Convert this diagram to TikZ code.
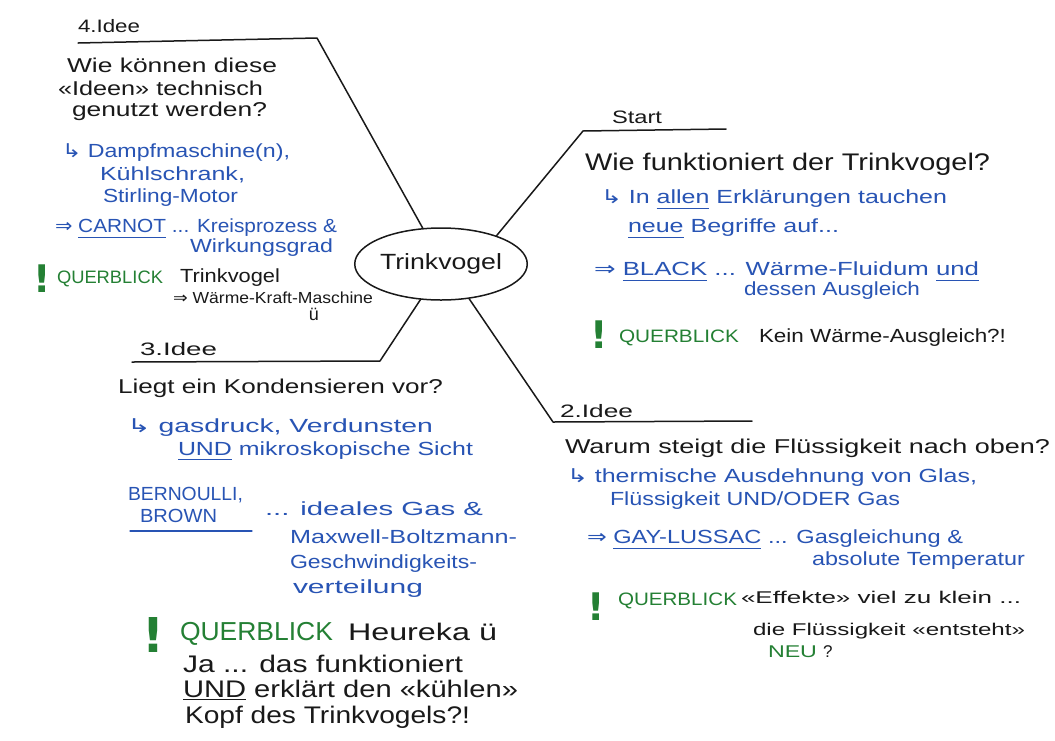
\documentclass[tikz,border=0pt]{standalone}
\usepackage{fontspec}
\usepackage{graphicx}
\usetikzlibrary{shapes.geometric}
\setmainfont{Liberation Sans}
\newfontfamily\sym{DejaVu Sans}
\definecolor{blueink}{RGB}{40,84,180}
\definecolor{greenink}{RGB}{36,128,52}
\definecolor{inkblack}{RGB}{25,25,25}
\newsavebox\ulbox
\newcommand\fw[2]{\resizebox{#1pt}{\height}{#2}}
\newcommand\uln[2][-0.32em]{\sbox\ulbox{#2}\rlap{\rule[#1]{\wd\ulbox}{1.3pt}}\usebox{\ulbox}}
\tikzset{
  t/.style={anchor=base west, inner sep=0pt, outer sep=0pt},
  ink/.style={text=inkblack},
  bl/.style={text=blueink},
  gr/.style={text=greenink},
  fLab/.style={font=\fontsize{18}{21}\selectfont},
  fQ/.style={font=\fontsize{20}{24}\selectfont},
  fQL/.style={font=\fontsize{24}{28}\selectfont},
  fB/.style={font=\fontsize{19}{22}\selectfont},
  fM/.style={font=\fontsize{17}{20}\selectfont},
  fS/.style={font=\fontsize{16}{19}\selectfont},
  fG/.style={font=\fontsize{18}{21}\selectfont},
  fGL/.style={font=\fontsize{26}{30}\selectfont},
  fL/.style={font=\fontsize{24}{28}\selectfont},
  fX/.style={font=\sym\bfseries\fontsize{38}{38}\selectfont},
  fXL/.style={font=\sym\bfseries\fontsize{48}{48}\selectfont},
  branch/.style={draw=inkblack, line width=1.5pt, line join=round, line cap=round},
  bluerule/.style={draw=blueink, line width=1.3pt, line cap=round},
}
\begin{document}
\begin{tikzpicture}[x=1pt, y=-1pt]
\path[use as bounding box, fill=white] (0,0) rectangle (1055,740);

% centre
\node[draw=inkblack, line width=1.5pt, ellipse, minimum width=147pt, minimum height=72pt,
      inner sep=0pt, font=\fontsize{22}{26}\selectfont, text=inkblack] (tv) at (441,264) {\fw{122}{Trinkvogel}};

% branches
\coordinate (c4) at (317,38);  \coordinate (e4) at (78,43);
\coordinate (cs) at (583,131); \coordinate (es) at (726,129);
\coordinate (c3) at (380,361); \coordinate (e3) at (132,362);
\coordinate (c2) at (553,422); \coordinate (e2) at (752,421);
\draw[branch] (tv.117) -- (c4) -- (e4);
\draw[branch] (tv.27) -- (cs) -- (es);
\draw[branch] (tv.240) -- (c3) -- (e3);
\draw[branch] (tv.309) -- (c2) -- (e2);

% 4. Idee
\node[t,ink,fLab] (l4) at (78,32) {\fw{62}{4.Idee}};
\node[t,ink,fQ] (q4a) at (67,72) {\fw{210}{Wie können diese}};
\node[t,ink,fQ] (q4b) at (58,95) {\fw{205}{«Ideen» technisch}};
\node[t,ink,fQ] (q4c) at (72,116) {\fw{195}{genutzt werden?}};
\node[t,bl,fB] (a4a) at (62,157) {\fw{228}{{\sym ↳} Dampfmaschine(n),}};
\node[t,bl,fB] (a4b) at (100,180) {\fw{145}{Kühlschrank,}};
\node[t,bl,fB] (a4c) at (103,202) {\fw{135}{Stirling-Motor}};
\node[t,bl,fB] (a4d) at (55,232) {\fw{282}{{\sym ⇒} \uln{CARNOT} ... Kreisprozess \&}};
\node[t,bl,fB] (a4e) at (190,252) {\fw{143}{Wirkungsgrad}};
\node[t,gr,fX] (x4) at (34,292) {!};
\node[t,gr,fG] (g4) at (57,283) {\fw{106}{QUERBLICK}};
\node[t,ink,fB] (k4a) at (180,282) {\fw{100}{Trinkvogel}};
\node[t,ink,fS] (k4b) at (173,303) {\fw{200}{{\sym ⇒} Wärme-Kraft-Maschine}};
\node[ink, font=\fontsize{18}{20}\selectfont, inner sep=0pt] (sm4) at (314,314) {ü};

% Start
\node[t,ink,fLab] (ls) at (612,123) {\fw{50}{Start}};
\node[t,ink,fQL] (qs) at (585,170) {\fw{405}{Wie funktioniert der Trinkvogel?}};
\node[t,bl,fB] (as1) at (601,203) {\fw{346}{{\sym ↳} In \uln{allen} Erklärungen tauchen}};
\node[t,bl,fB] (as2) at (628,232) {\fw{211}{\uln{neue} Begriffe auf...}};
\node[t,bl,fB] (as3) at (594,275) {\fw{385}{{\sym ⇒} \uln{BLACK} ... Wärme-Fluidum \uln{und}}};
\node[t,bl,fB] (as4) at (744,295) {\fw{176}{dessen Ausgleich}};
\node[t,gr,fX] (xs) at (590,348) {!};
\node[t,gr,fG] (gs) at (619,342) {\fw{120}{QUERBLICK}};
\node[t,ink,fB] (ks) at (759,342) {\fw{247}{Kein Wärme-Ausgleich?!}};

% 3. Idee
\node[t,ink,fLab] (l3) at (140,355) {\fw{77}{3.Idee}};
\node[t,ink,fQ] (q3) at (118,393) {\fw{325}{Liegt ein Kondensieren vor?}};
\node[t,bl,fB] (a3a) at (127,432) {\fw{306}{{\sym ↳} gasdruck, Verdunsten}};
\node[t,bl,fB] (a3b) at (178,455) {\fw{295}{\uln[-0.28em]{UND} mikroskopische Sicht}};
\node[t,bl,fB] (a3c) at (128,500) {\fw{115}{BERNOULLI,}};
\node[t,bl,fB] (a3d) at (140,522) {\fw{77}{BROWN}};
\draw[bluerule] (130,531) -- (252,531);
\node[t,bl,fB] (a3e) at (265,515) {\fw{218}{... ideales Gas \&}};
\node[t,bl,fB] (a3f) at (290,543) {\fw{227}{Maxwell-Boltzmann-}};
\node[t,bl,fB] (a3g) at (290,568) {\fw{187}{Geschwindigkeits-}};
\node[t,bl,fB] (a3h) at (293,593) {\fw{130}{verteilung}};
\node[t,gr,fXL] (x3) at (142,652) {!};
\node[t,gr,fGL] (g3) at (180,640) {\fw{153}{QUERBLICK}};
\node[t,ink,fL] (k3a) at (348,640) {\fw{149}{Heureka ü}};
\node[t,ink,fL] (k3b) at (183,672) {\fw{280}{Ja ... das funktioniert}};
\node[t,ink,fL] (k3c) at (183,697) {\fw{335}{\uln[-0.14em]{UND} erklärt den «kühlen»}};
\node[t,ink,fL] (k3d) at (185,723) {\fw{285}{Kopf des Trinkvogels?!}};

% 2. Idee
\node[t,ink,fLab] (l2) at (560,417) {\fw{73}{2.Idee}};
\node[t,ink,fQ] (q2) at (565,453) {\fw{485}{Warum steigt die Flüssigkeit nach oben?}};
\node[t,bl,fB] (a2a) at (567,482) {\fw{410}{{\sym ↳} thermische Ausdehnung von Glas,}};
\node[t,bl,fB] (a2b) at (610,505) {\fw{290}{Flüssigkeit UND/ODER Gas}};
\node[t,bl,fB] (a2c) at (587,543) {\fw{376}{{\sym ⇒} \uln{GAY-LUSSAC} ... Gasgleichung \&}};
\node[t,bl,fB] (a2d) at (812,565) {\fw{213}{absolute Temperatur}};
\node[t,gr,fX] (x2) at (587,620) {!};
\node[t,gr,fG] (g2) at (618,605) {\fw{119}{QUERBLICK}};
\node[t,ink,fM] (k2a) at (741,603) {\fw{280}{«Effekte» viel zu klein ...}};
\node[t,ink,fM] (k2b) at (753,635) {\fw{272}{die Flüssigkeit «entsteht»}};
\node[t,gr,fM] (k2c) at (768,657) {\fw{49}{NEU}};
\node[t,ink,fM] (k2d) at (823,657) {?};
\end{tikzpicture}
\end{document}
